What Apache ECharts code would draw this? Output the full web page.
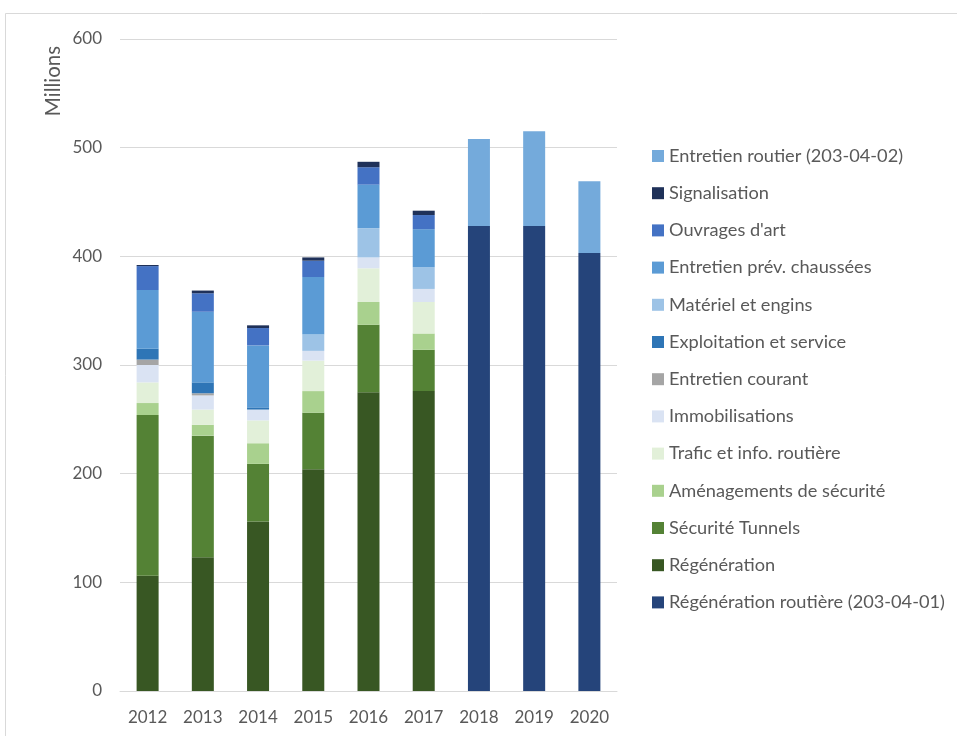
<!DOCTYPE html>
<html>
<head>
<meta charset="utf-8">
<script src="https://cdn.jsdelivr.net/npm/echarts@6/dist/echarts.min.js"></script>
<style>
  html, body { margin: 0; padding: 0; background: #fff; }
  #chart { width: 957px; height: 736px; }
</style>
</head>
<body>
<div id="chart"></div>
<script>
// Budget par catégorie, en millions
const years = ['2012', '2013', '2014', '2015', '2016', '2017', '2018', '2019', '2020'];
const yTicks = [0, 100, 200, 300, 400, 500, 600];

const regenerationRoutiere = [0, 0, 0, 0, 0, 0, 428, 428, 403];
const regeneration        = [106, 123, 156, 204, 275, 276, 0, 0, 0];
const securiteTunnels     = [148, 112, 53, 52, 62, 38, 0, 0, 0];
const amenagements        = [11, 10, 19, 20, 21, 15, 0, 0, 0];
const trafic              = [19, 14, 21, 28, 31, 29, 0, 0, 0];
const immobilisations     = [16, 13, 10, 9, 10, 12, 0, 0, 0];
const entretienCourant    = [5, 2, 0, 0, 0, 0, 0, 0, 0];
const exploitation        = [10, 10, 2, 0, 0, 0, 0, 0, 0];
const materiel            = [0, 0, 0, 15, 27, 20, 0, 0, 0];
const entretienPrev       = [54, 65, 57, 53, 40, 35, 0, 0, 0];
const ouvrages            = [22, 17, 16, 15, 16, 13, 0, 0, 0];
const signalisation       = [1, 2.5, 2.5, 3, 5, 4, 0, 0, 0];
const entretienRoutier    = [0, 0, 0, 0, 0, 0, 80, 87, 66];

// Stacking order, bottom to top
const seriesDefs = [
  ['Régénération routière (203-04-01)', regenerationRoutiere, '#25447A'],
  ['Régénération', regeneration, '#385723'],
  ['Sécurité Tunnels', securiteTunnels, '#548235'],
  ['Aménagements de sécurité', amenagements, '#A9D18E'],
  ['Trafic et info. routière', trafic, '#E2F0D9'],
  ['Immobilisations', immobilisations, '#DAE3F3'],
  ['Entretien courant', entretienCourant, '#A5A5A5'],
  ['Exploitation et service', exploitation, '#2E75B6'],
  ['Matériel et engins', materiel, '#9DC3E6'],
  ['Entretien prév. chaussées', entretienPrev, '#5B9BD5'],
  ['Ouvrages d\'art', ouvrages, '#4472C4'],
  ['Signalisation', signalisation, '#1F3159'],
  ['Entretien routier (203-04-02)', entretienRoutier, '#74AADB']
];

const font = 'Lato, "Liberation Sans", sans-serif';
const textColor = '#595959';

const chart = echarts.init(document.getElementById('chart'), null, { renderer: 'canvas' });

chart.setOption({
  animation: false,
  backgroundColor: '#fff',
  textStyle: { fontFamily: font },
  grid: { left: 120, right: 340, top: 39, bottom: 45, containLabel: false },
  legend: {
    orient: 'vertical',
    left: 652,
    top: 146,
    padding: 0,
    itemWidth: 12,
    itemHeight: 12,
    itemGap: 17.2,
    icon: 'rect',
    data: seriesDefs.map(d => d[0]).reverse(),
    textStyle: { fontFamily: font, fontSize: 18.2, color: textColor, lineHeight: 20 }
  },
  xAxis: {
    type: 'category',
    data: years,
    axisLine: { lineStyle: { color: '#D9D9D9', width: 1 } },
    axisTick: { show: false },
    axisLabel: { fontFamily: font, fontSize: 17, color: textColor, margin: 18 }
  },
  yAxis: {
    type: 'value',
    min: yTicks[0],
    max: yTicks[yTicks.length - 1],
    interval: 100,
    axisLine: { show: false },
    axisTick: { show: false },
    splitLine: { lineStyle: { color: '#D9D9D9', width: 1 } },
    axisLabel: { fontFamily: font, fontSize: 17, color: textColor, margin: 18 }
  },
  graphic: [
    {
      type: 'rect',
      shape: { x: 5.5, y: 13.5, width: 1000, height: 800 },
      style: { fill: 'none', stroke: '#D9D9D9', lineWidth: 1 },
      silent: true
    },
    {
      type: 'text',
      x: 53,
      y: 81,
      rotation: Math.PI / 2,
      style: {
        text: 'Millions',
        fontFamily: font,
        fontSize: 20.5,
        fill: textColor,
        align: 'center',
        verticalAlign: 'middle'
      }
    }
  ],
  series: seriesDefs.map(([name, values, color]) => ({
    name: name,
    type: 'bar',
    stack: 'total',
    barWidth: 22,
    data: values,
    itemStyle: { color: color }
  }))
});
</script>
</body>
</html>
